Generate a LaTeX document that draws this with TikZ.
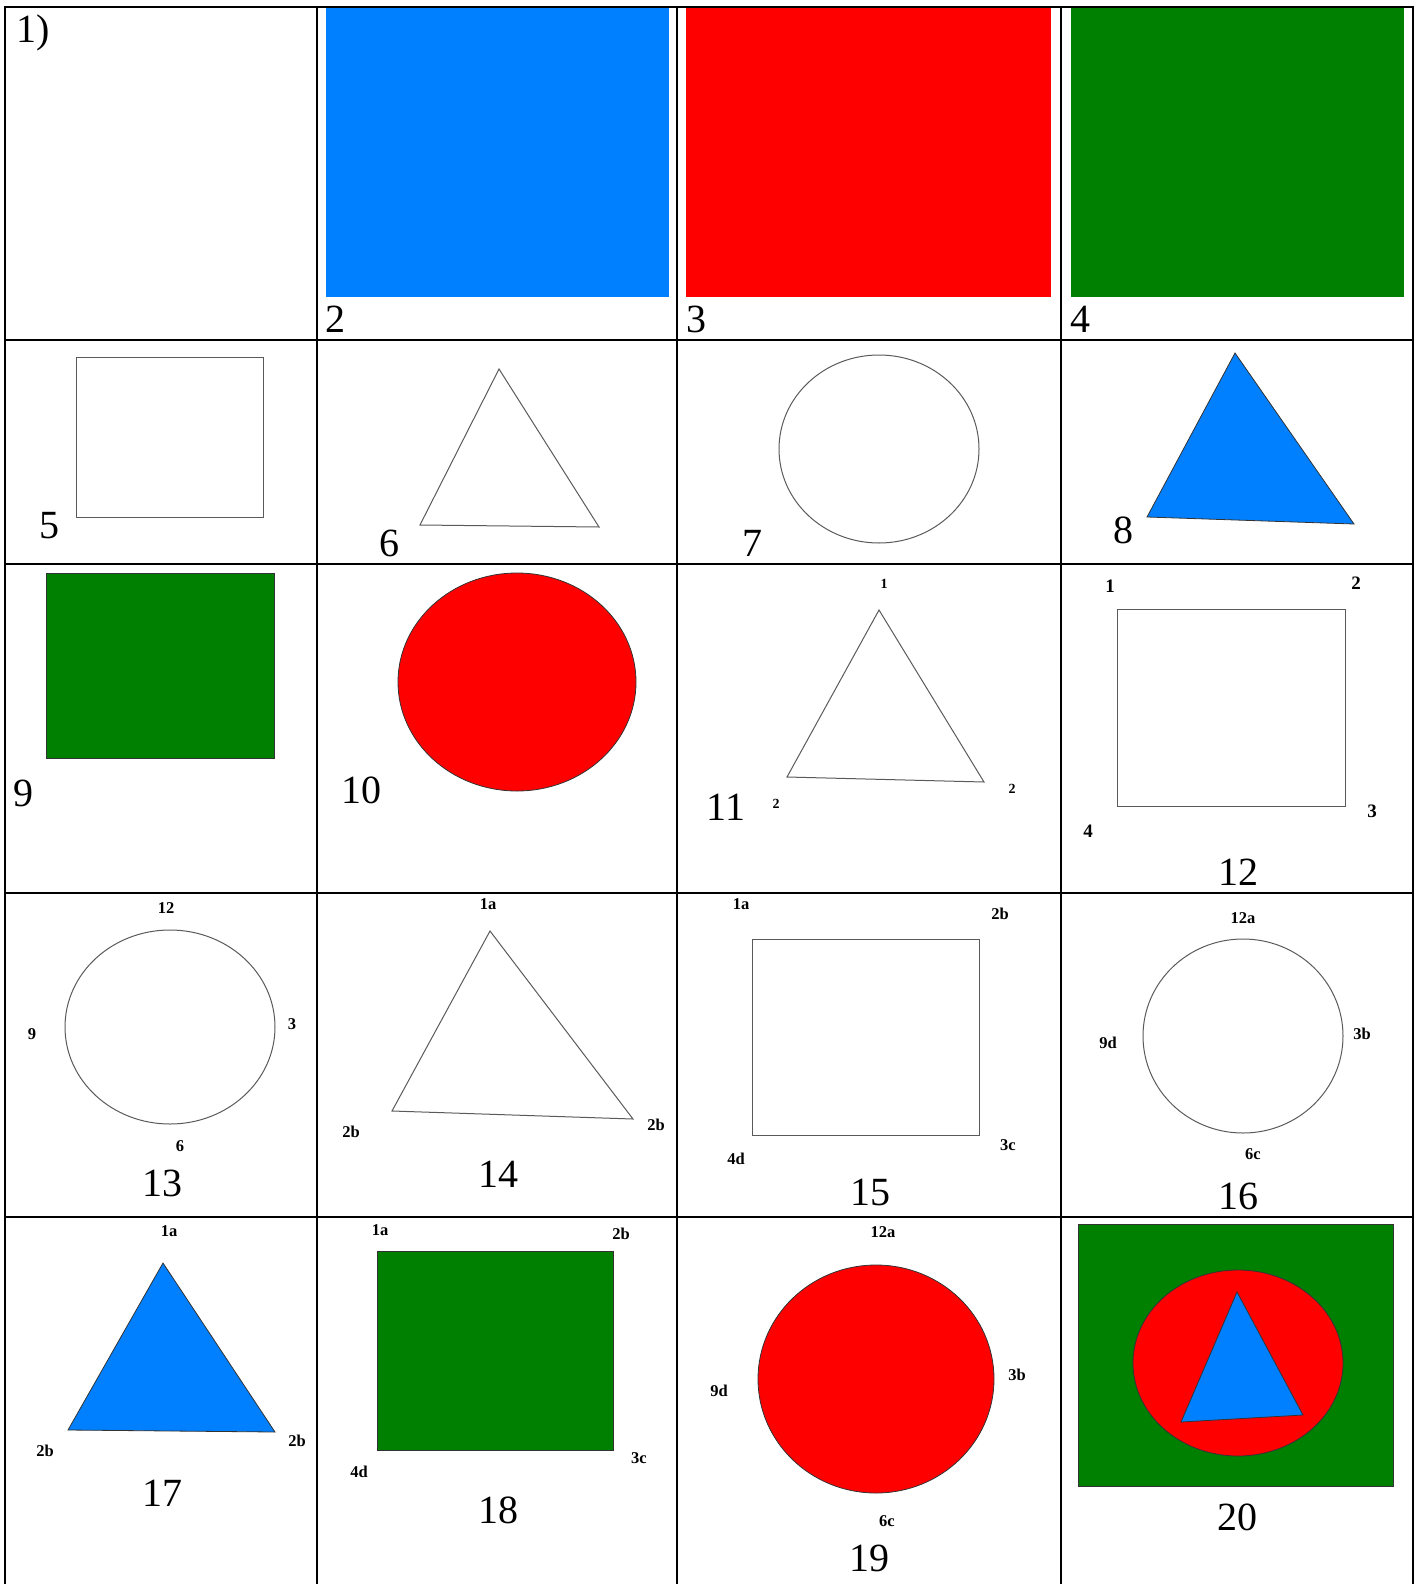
\documentclass[tikz,border=0pt]{standalone}
\usepackage{fontspec}
\setmainfont{Liberation Serif}
\usepackage{tikz}
\usetikzlibrary{positioning}
\definecolor{shapeblue}{RGB}{0,128,255}
\definecolor{shapered}{RGB}{255,0,0}
\definecolor{shapegreen}{RGB}{0,128,0}
\definecolor{outlinegrey}{RGB}{90,90,90}
\tikzset{
    % Table rules
    gridline/.style={line width=2.2pt, black},
    % Plain outlined shape
    outline/.style={draw=outlinegrey, line width=1pt},
    % Coloured shapes with a thin dark edge
    blueshape/.style={fill=shapeblue, draw=black!80, line width=0.8pt},
    redshape/.style={fill=shapered, draw=black!80, line width=0.8pt},
    greenshape/.style={fill=shapegreen, draw=black!80, line width=0.8pt},
    % Big cell numbers
    cellnum/.style={font=\fontsize{40}{40}\selectfont, inner sep=0pt},
    % Small bold point labels
    ptlabel/.style={font=\fontsize{16.5}{16.5}\selectfont\bfseries, inner sep=0pt},
    smallptlabel/.style={ptlabel, font=\fontsize{14}{14}\selectfont\bfseries},
    bigptlabel/.style={ptlabel, font=\fontsize{19}{19}\selectfont\bfseries},
}
\begin{document}
\begin{tikzpicture}[x=1pt,y=-1pt]
  \useasboundingbox (0,0) rectangle (1423,1584);
  % row 1: plain colour blocks
  \fill[shapeblue] (326,8) rectangle (669,297);
  \fill[shapered] (686,8) rectangle (1051,297);
  \fill[shapegreen] (1071,8) rectangle (1404,297);
  \node[cellnum,anchor=base west] (num1) at (16,43) {1)};
  \node[cellnum,anchor=base west] (num2) at (325,332) {2};
  \node[cellnum,anchor=base west] (num3) at (686,332) {3};
  \node[cellnum,anchor=base west] (num4) at (1070,332) {4};
  % row 2
  \draw[outline] (76,357) rectangle (263,517);
  \draw[outline] (499,369) -- (420,525) -- (599,527) -- cycle;
  \draw[outline] (879,449) ellipse [x radius=100, y radius=94];
  \draw[blueshape] (1235,353) -- (1147,517) -- (1354,524) -- cycle;
  \node[cellnum] (num5) at (49,526) {5};
  \node[cellnum] (num6) at (389,543) {6};
  \node[cellnum] (num7) at (752,543) {7};
  \node[cellnum] (num8) at (1123,530) {8};
  % row 3
  \draw[greenshape] (46,573) rectangle (274,758);
  \draw[redshape] (517,682) ellipse [x radius=119, y radius=109];
  \draw[outline] (879,610) -- (787,777) -- (984,782) -- cycle;
  \draw[outline] (1117,609) rectangle (1345,806);
  \node[cellnum] (num9) at (23,793) {9};
  \node[cellnum] (num10) at (361,790) {10};
  \node[cellnum] (num11) at (726,807) {11};
  \node[cellnum] (num12) at (1238,872) {12};
  \node[smallptlabel] (t11top) at (884,584) {1};
  \node[smallptlabel] (t11left) at (776,804) {2};
  \node[smallptlabel] (t11right) at (1012,789) {2};
  \node[bigptlabel] (s12a) at (1110,586) {1};
  \node[bigptlabel] (s12b) at (1356,583) {2};
  \node[bigptlabel] (s12c) at (1372,811) {3};
  \node[bigptlabel] (s12d) at (1088,831) {4};
  % row 4
  \draw[outline] (170,1027) ellipse [x radius=105, y radius=97];
  \draw[outline] (490,931) -- (392,1111) -- (633,1119) -- cycle;
  \draw[outline] (752,939) rectangle (979,1135);
  \draw[outline] (1243,1036) ellipse [x radius=100, y radius=97];
  \node[cellnum] (num13) at (162,1183) {13};
  \node[cellnum] (num14) at (498,1174) {14};
  \node[cellnum] (num15) at (870,1192) {15};
  \node[cellnum] (num16) at (1238,1196) {16};
  \node[ptlabel] (c13top) at (166,908) {12};
  \node[ptlabel] (c13left) at (32,1034) {9};
  \node[ptlabel] (c13right) at (292,1024) {3};
  \node[ptlabel] (c13bot) at (180,1146) {6};
  \node[ptlabel] (t14top) at (488,904) {1a};
  \node[ptlabel] (t14left) at (351,1132) {2b};
  \node[ptlabel] (t14right) at (656,1125) {2b};
  \node[ptlabel] (s15a) at (741,904) {1a};
  \node[ptlabel] (s15b) at (1000,914) {2b};
  \node[ptlabel] (s15c) at (1008,1145) {3c};
  \node[ptlabel] (s15d) at (736,1159) {4d};
  \node[ptlabel] (c16top) at (1243,918) {12a};
  \node[ptlabel] (c16left) at (1108,1043) {9d};
  \node[ptlabel] (c16right) at (1362,1034) {3b};
  \node[ptlabel] (c16bot) at (1253,1154) {6c};
  % row 5
  \draw[blueshape] (163,1263) -- (68,1430) -- (275,1432) -- cycle;
  \draw[greenshape] (377,1251) rectangle (613,1450);
  \draw[redshape] (876,1379) ellipse [x radius=118, y radius=114];
  \draw[greenshape] (1078,1224) rectangle (1393,1486);
  \draw[redshape] (1238,1363) ellipse [x radius=105, y radius=93];
  \draw[blueshape] (1237,1292) -- (1181,1422) -- (1303,1415) -- cycle;
  \node[cellnum] (num17) at (162,1493) {17};
  \node[cellnum] (num18) at (498,1510) {18};
  \node[cellnum] (num19) at (869,1558) {19};
  \node[cellnum] (num20) at (1237,1517) {20};
  \node[ptlabel] (t17top) at (169,1231) {1a};
  \node[ptlabel] (t17left) at (45,1451) {2b};
  \node[ptlabel] (t17right) at (297,1441) {2b};
  \node[ptlabel] (s18a) at (380,1230) {1a};
  \node[ptlabel] (s18b) at (621,1234) {2b};
  \node[ptlabel] (s18c) at (639,1458) {3c};
  \node[ptlabel] (s18d) at (359,1472) {4d};
  \node[ptlabel] (c19top) at (883,1232) {12a};
  \node[ptlabel] (c19left) at (719,1391) {9d};
  \node[ptlabel] (c19right) at (1017,1375) {3b};
  \node[ptlabel] (c19bot) at (887,1521) {6c};
  % table rules
  \foreach \gx in {5,317,677,1061,1413}
    \draw[gridline] (\gx,6) -- (\gx,1584);
  \foreach \gy in {7,340,564,893,1217}
    \draw[gridline] (4,\gy) -- (1414,\gy);
\end{tikzpicture}
\end{document}
